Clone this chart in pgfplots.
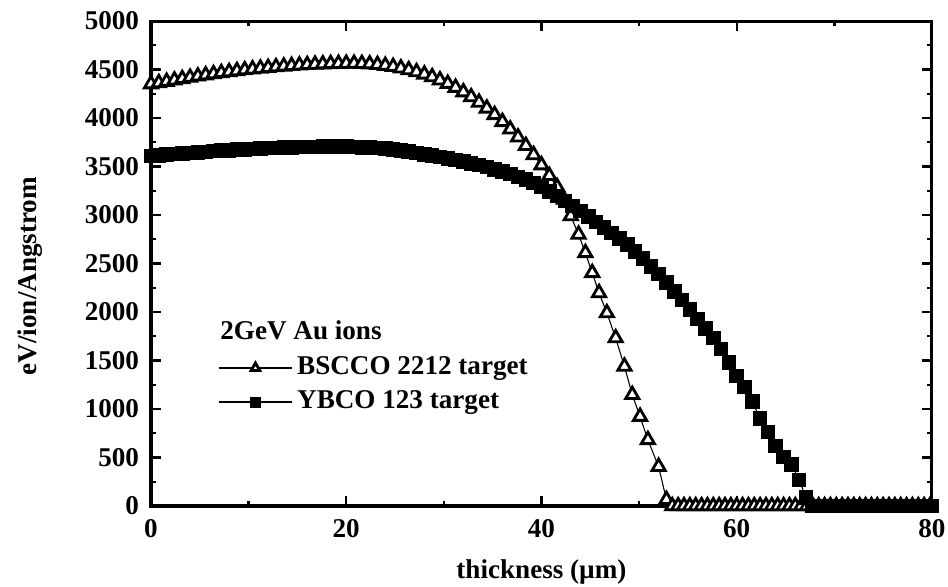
\documentclass[border=0pt]{standalone}
\usepackage{fontspec}
\setmainfont{Liberation Serif}
\usepackage{pgfplots}
\pgfplotsset{compat=1.18}
\usepackage{pgfplotstable}

\pgfplotstableread{
x y
0.0 4350
0.8 4362
1.6 4376
2.4 4390
3.2 4404
4.0 4418
4.8 4431
5.6 4443
6.4 4455
7.2 4466
8.0 4476
8.8 4486
9.6 4495
10.4 4504
11.2 4512
12.0 4519
12.8 4526
13.6 4533
14.4 4539
15.2 4544
16.0 4549
16.8 4553
17.6 4556
18.4 4559
19.2 4561
20.0 4562
20.8 4562
21.6 4560
22.4 4556
23.2 4550
24.0 4541
24.8 4529
25.6 4514
26.4 4496
27.2 4475
28.0 4451
28.8 4423
29.6 4391
30.4 4355
31.2 4314
32.0 4268
32.8 4217
33.6 4161
34.4 4100
35.2 4033
36.0 3961
36.8 3884
37.6 3802
38.4 3715
39.2 3620
40.0 3515
40.8 3405
41.6 3290
42.3 3160
43.0 2990
43.8 2800
44.5 2610
45.2 2404
45.9 2197
46.7 1990
47.6 1732
48.5 1439
49.3 1147
50.1 922
50.9 682
52.0 406
52.8 65
53.4 0
54.0 0
54.6 0
55.2 0
55.8 0
56.4 0
57.0 0
57.6 0
58.2 0
58.8 0
59.4 0
60.0 0
60.6 0
61.2 0
61.8 0
62.4 0
63.0 0
63.6 0
64.2 0
64.8 0
65.4 0
66.0 0
66.6 0
67.2 0
67.8 0
68.4 0
69.0 0
69.6 0
70.2 0
70.8 0
71.4 0
72.0 0
72.6 0
73.2 0
73.8 0
74.4 0
75.0 0
75.6 0
76.2 0
76.8 0
77.4 0
78.0 0
78.6 0
79.2 0
79.8 0
}\bscco

\pgfplotstableread{
x y
0.0 3610
0.8 3616
1.6 3622
2.4 3628
3.2 3634
4.0 3640
4.8 3646
5.6 3652
6.4 3658
7.2 3663
8.0 3668
8.8 3673
9.6 3678
10.4 3682
11.2 3686
12.0 3690
12.8 3693
13.6 3696
14.4 3698
15.2 3700
16.0 3702
16.8 3703
17.6 3704
18.4 3705
19.2 3705
20.0 3705
20.8 3702
21.6 3699
22.4 3696
23.2 3690
24.0 3684
24.8 3675
25.6 3665
26.4 3653
27.2 3639
28.0 3625
28.8 3611
29.6 3597
30.4 3582
31.2 3566
32.0 3550
32.8 3532
33.6 3514
34.4 3494
35.2 3472
36.0 3450
36.8 3423
37.6 3394
38.4 3364
39.2 3330
40.0 3290
40.8 3244
41.6 3195
42.4 3144
43.2 3092
44.0 3040
44.8 2985
45.6 2928
46.4 2872
47.2 2816
48.0 2760
48.8 2694
49.6 2624
50.4 2552
51.2 2472
52.0 2390
52.8 2302
53.6 2214
54.4 2122
55.2 2026
56.0 1930
56.8 1830
57.6 1730
58.4 1620
59.2 1480
60.0 1340
60.8 1228
61.6 1075
62.4 900
63.2 764
64.0 620
64.8 505
65.6 430
66.4 270
67.1 85
67.7 0
68.3 0
68.9 0
69.5 0
70.1 0
70.7 0
71.3 0
71.9 0
72.5 0
73.1 0
73.7 0
74.3 0
74.9 0
75.5 0
76.1 0
76.7 0
77.3 0
77.9 0
78.5 0
79.1 0
79.7 0
80.0 0
}\ybco

\begin{document}
\begin{tikzpicture}[font=\bfseries\fontsize{12.5}{15}\selectfont]
\path[use as bounding box] (-69.6pt,-36.9pt) rectangle (367.3pt,233.2pt);
\begin{axis}[
  at={(0pt,0pt)}, anchor=south west,
  scale only axis,
  width=359.9pt, height=223.5pt,
  xmin=0, xmax=80, ymin=0, ymax=5000,
  xtick={0,20,...,80}, minor x tick num=1,
  ytick={0,500,...,5000}, minor y tick num=1,
  tick align=inside,
  major tick length=4.5pt, minor tick length=2.5pt,
  tick style={black, line width=1.1pt},
  axis line style={line width=1.4pt},
  /pgf/number format/assume math mode=true,
  /pgf/number format/1000 sep={},
  yticklabel style={xshift=-2pt},
  xticklabel style={yshift=-2.5pt},
  xlabel={thickness (µm)},
  ylabel={eV/ion/Angstrom},
  xlabel style={at={(axis description cs:0.5,-0.136)}, anchor=center},
  ylabel style={at={(axis description cs:-0.155,0.474)}, anchor=center},
  clip=false,
  legend style={draw=none, fill=none, at={(axis description cs:0.0858,0.2495)}, anchor=west,
    inner sep=0pt, outer sep=0pt, row sep=3.7pt, column sep=2pt,
    nodes={inner sep=0pt, text height=9pt, text depth=3pt}},
  legend cell align=left,
  legend image code/.code={
    \draw[mark repeat=2,mark phase=2,#1,mark size=2.3pt] plot coordinates {(0pt,0pt) (17pt,0pt) (34pt,0pt)};
  },
]
\addplot[black, line width=0.5pt, mark=triangle*, mark size=3.5pt,
  mark options={solid, fill=white, line width=1.3pt}] table[x=x,y=y] {\bscco};
\addlegendentry{BSCCO 2212 target}
\addplot[black, line width=0.5pt, mark=square*, mark size=3.1pt,
  mark options={solid, fill=black}] table[x=x,y=y] {\ybco};
\addlegendentry{YBCO 123 target}
\node[anchor=west, inner sep=0pt] at (axis description cs:0.0883,0.363) {2GeV Au ions};
\end{axis}
\end{tikzpicture}
\end{document}
